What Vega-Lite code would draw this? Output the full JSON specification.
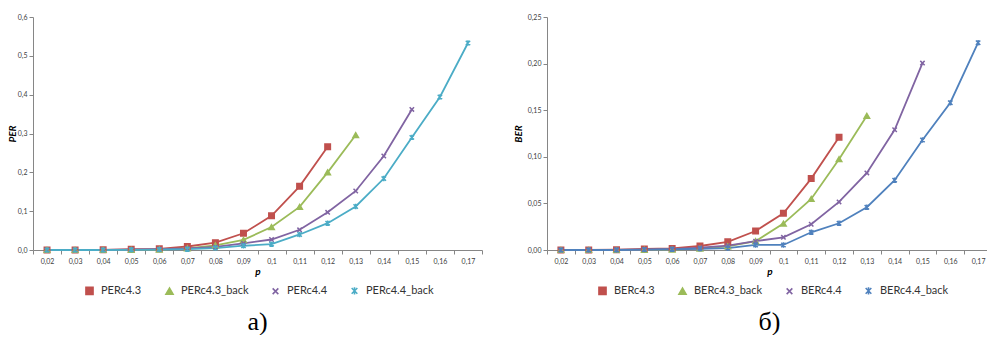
{
  "$schema": "https://vega.github.io/schema/vega-lite/v6.json",
  "padding": {"left": 7, "top": 13, "right": 0, "bottom": 0},
  "background": "white",
  "spacing": 30,
  "config": {
    "view": {"stroke": null},
    "font": "Lato",
    "axis": {"labelFont": "Lato", "labelFontSize": 7, "labelColor": "#404040", "domainColor": "#868686", "tickColor": "#868686", "grid": false, "titleFont": "Lato", "titleFontSize": 10, "titleFontStyle": "italic", "titleFontWeight": "bold", "titleColor": "#000000"},
    "legend": {"orient": "none", "direction": "horizontal", "labelFont": "Lato", "labelFontSize": 11, "labelColor": "#333333", "symbolSize": 50, "symbolStrokeWidth": 1.6, "columnPadding": 20, "labelOffset": 6, "legendY": 268},
    "title": {"font": "Liberation Serif", "fontSize": 26, "fontWeight": "normal", "color": "#000000", "orient": "bottom", "anchor": "middle"}
  },
  "datasets": {
    "per": [
      {"series": "PERc4.3", "p": "0,02", "v": 0}, {"series": "PERc4.3", "p": "0,03", "v": 0}, {"series": "PERc4.3", "p": "0,04", "v": 0.0005}, {"series": "PERc4.3", "p": "0,05", "v": 0.002}, {"series": "PERc4.3", "p": "0,06", "v": 0.003}, {"series": "PERc4.3", "p": "0,07", "v": 0.009}, {"series": "PERc4.3", "p": "0,08", "v": 0.019}, {"series": "PERc4.3", "p": "0,09", "v": 0.043}, {"series": "PERc4.3", "p": "0,1", "v": 0.088}, {"series": "PERc4.3", "p": "0,11", "v": 0.164}, {"series": "PERc4.3", "p": "0,12", "v": 0.266},
      {"series": "PERc4.3_back", "p": "0,02", "v": 0}, {"series": "PERc4.3_back", "p": "0,03", "v": 0}, {"series": "PERc4.3_back", "p": "0,04", "v": 0}, {"series": "PERc4.3_back", "p": "0,05", "v": 0.0005}, {"series": "PERc4.3_back", "p": "0,06", "v": 0.001}, {"series": "PERc4.3_back", "p": "0,07", "v": 0.004}, {"series": "PERc4.3_back", "p": "0,08", "v": 0.012}, {"series": "PERc4.3_back", "p": "0,09", "v": 0.026}, {"series": "PERc4.3_back", "p": "0,1", "v": 0.059}, {"series": "PERc4.3_back", "p": "0,11", "v": 0.111}, {"series": "PERc4.3_back", "p": "0,12", "v": 0.2}, {"series": "PERc4.3_back", "p": "0,13", "v": 0.296},
      {"series": "PERc4.4", "p": "0,02", "v": 0}, {"series": "PERc4.4", "p": "0,03", "v": 0}, {"series": "PERc4.4", "p": "0,04", "v": 0.0003}, {"series": "PERc4.4", "p": "0,05", "v": 0.001}, {"series": "PERc4.4", "p": "0,06", "v": 0.002}, {"series": "PERc4.4", "p": "0,07", "v": 0.004}, {"series": "PERc4.4", "p": "0,08", "v": 0.008}, {"series": "PERc4.4", "p": "0,09", "v": 0.017}, {"series": "PERc4.4", "p": "0,1", "v": 0.027}, {"series": "PERc4.4", "p": "0,11", "v": 0.052}, {"series": "PERc4.4", "p": "0,12", "v": 0.097}, {"series": "PERc4.4", "p": "0,13", "v": 0.152}, {"series": "PERc4.4", "p": "0,14", "v": 0.242}, {"series": "PERc4.4", "p": "0,15", "v": 0.362},
      {"series": "PERc4.4_back", "p": "0,02", "v": 0}, {"series": "PERc4.4_back", "p": "0,03", "v": 0}, {"series": "PERc4.4_back", "p": "0,04", "v": 0}, {"series": "PERc4.4_back", "p": "0,05", "v": 0.0005}, {"series": "PERc4.4_back", "p": "0,06", "v": 0.001}, {"series": "PERc4.4_back", "p": "0,07", "v": 0.002}, {"series": "PERc4.4_back", "p": "0,08", "v": 0.005}, {"series": "PERc4.4_back", "p": "0,09", "v": 0.011}, {"series": "PERc4.4_back", "p": "0,1", "v": 0.015}, {"series": "PERc4.4_back", "p": "0,11", "v": 0.04}, {"series": "PERc4.4_back", "p": "0,12", "v": 0.069}, {"series": "PERc4.4_back", "p": "0,13", "v": 0.112}, {"series": "PERc4.4_back", "p": "0,14", "v": 0.184}, {"series": "PERc4.4_back", "p": "0,15", "v": 0.29}, {"series": "PERc4.4_back", "p": "0,16", "v": 0.394}, {"series": "PERc4.4_back", "p": "0,17", "v": 0.533}
    ],
    "ber": [
      {"series": "BERc4.3", "p": "0,02", "v": 0}, {"series": "BERc4.3", "p": "0,03", "v": 0}, {"series": "BERc4.3", "p": "0,04", "v": 0.0003}, {"series": "BERc4.3", "p": "0,05", "v": 0.0012}, {"series": "BERc4.3", "p": "0,06", "v": 0.0016}, {"series": "BERc4.3", "p": "0,07", "v": 0.0043}, {"series": "BERc4.3", "p": "0,08", "v": 0.0088}, {"series": "BERc4.3", "p": "0,09", "v": 0.0204}, {"series": "BERc4.3", "p": "0,1", "v": 0.0394}, {"series": "BERc4.3", "p": "0,11", "v": 0.0766}, {"series": "BERc4.3", "p": "0,12", "v": 0.121},
      {"series": "BERc4.3_back", "p": "0,02", "v": 0}, {"series": "BERc4.3_back", "p": "0,03", "v": 0}, {"series": "BERc4.3_back", "p": "0,04", "v": 0}, {"series": "BERc4.3_back", "p": "0,05", "v": 0.0002}, {"series": "BERc4.3_back", "p": "0,06", "v": 0.0005}, {"series": "BERc4.3_back", "p": "0,07", "v": 0.0015}, {"series": "BERc4.3_back", "p": "0,08", "v": 0.004}, {"series": "BERc4.3_back", "p": "0,09", "v": 0.0095}, {"series": "BERc4.3_back", "p": "0,1", "v": 0.0283}, {"series": "BERc4.3_back", "p": "0,11", "v": 0.0548}, {"series": "BERc4.3_back", "p": "0,12", "v": 0.0974}, {"series": "BERc4.3_back", "p": "0,13", "v": 0.144},
      {"series": "BERc4.4", "p": "0,02", "v": 0}, {"series": "BERc4.4", "p": "0,03", "v": 0}, {"series": "BERc4.4", "p": "0,04", "v": 0.0002}, {"series": "BERc4.4", "p": "0,05", "v": 0.0005}, {"series": "BERc4.4", "p": "0,06", "v": 0.001}, {"series": "BERc4.4", "p": "0,07", "v": 0.0025}, {"series": "BERc4.4", "p": "0,08", "v": 0.0047}, {"series": "BERc4.4", "p": "0,09", "v": 0.0095}, {"series": "BERc4.4", "p": "0,1", "v": 0.0136}, {"series": "BERc4.4", "p": "0,11", "v": 0.0276}, {"series": "BERc4.4", "p": "0,12", "v": 0.0516}, {"series": "BERc4.4", "p": "0,13", "v": 0.0827}, {"series": "BERc4.4", "p": "0,14", "v": 0.129}, {"series": "BERc4.4", "p": "0,15", "v": 0.2006},
      {"series": "BERc4.4_back", "p": "0,02", "v": 0}, {"series": "BERc4.4_back", "p": "0,03", "v": 0}, {"series": "BERc4.4_back", "p": "0,04", "v": 0}, {"series": "BERc4.4_back", "p": "0,05", "v": 0.0004}, {"series": "BERc4.4_back", "p": "0,06", "v": 0.0008}, {"series": "BERc4.4_back", "p": "0,07", "v": 0.0013}, {"series": "BERc4.4_back", "p": "0,08", "v": 0.002}, {"series": "BERc4.4_back", "p": "0,09", "v": 0.0054}, {"series": "BERc4.4_back", "p": "0,1", "v": 0.0054}, {"series": "BERc4.4_back", "p": "0,11", "v": 0.019}, {"series": "BERc4.4_back", "p": "0,12", "v": 0.0287}, {"series": "BERc4.4_back", "p": "0,13", "v": 0.0459}, {"series": "BERc4.4_back", "p": "0,14", "v": 0.0749}, {"series": "BERc4.4_back", "p": "0,15", "v": 0.118}, {"series": "BERc4.4_back", "p": "0,16", "v": 0.158}, {"series": "BERc4.4_back", "p": "0,17", "v": 0.2224}
    ]
  },
  "resolve": {"scale": {"color": "independent", "shape": "independent", "y": "independent"}, "legend": {"color": "independent", "shape": "independent"}},
  "hconcat": [
    {
      "title": {"text": "a)", "offset": 11},
      "width": 449,
      "height": 233,
      "data": {"name": "per"},
      "encoding": {
        "x": {"field": "p", "type": "nominal", "sort": null, "title": "p", "scale": {"type": "band", "domain": ["0,02","0,03","0,04","0,05","0,06","0,07","0,08","0,09","0,1","0,11","0,12","0,13","0,14","0,15","0,16","0,17"], "paddingInner": 0, "paddingOuter": 0}, "axis": {"labelAngle": 0, "tickBand": "extent", "tickSize": 4, "labelPadding": 3, "titlePadding": 2}},
        "y": {"field": "v", "type": "quantitative", "title": "PER", "scale": {"domain": [0, 0.6], "nice": false}, "axis": {"values": [0, 0.1, 0.2, 0.3, 0.4, 0.5, 0.6], "labelExpr": "replace(format(datum.value, '.1f'), '.', ',')", "tickSize": 4, "titlePadding": 0}},
        "color": {"field": "series", "type": "nominal", "title": null, "scale": {"domain": ["PERc4.3", "PERc4.3_back", "PERc4.4", "PERc4.4_back"], "range": ["#C0504D", "#9BBB59", "#8064A2", "#4BACC6"]},
          "legend": {"legendX": 51, "encode": {"symbols": {"update": {
            "fill": {"signal": "datum.value == 'PERc4.3' ? '#C0504D' : datum.value == 'PERc4.3_back' ? '#9BBB59' : 'transparent'"},
            "stroke": {"signal": "datum.value == 'PERc4.3' ? '#C0504D' : datum.value == 'PERc4.3_back' ? '#9BBB59' : datum.value == 'PERc4.4' ? '#8064A2' : '#4BACC6'"}
          }}}}
        }
      },
      "layer": [
        {"mark": {"type": "line", "strokeWidth": 1.8}},
        {
          "mark": {"type": "point", "filled": false, "size": 30, "strokeWidth": 1.5, "opacity": 1},
          "encoding": {
            "shape": {"field": "series", "type": "nominal", "legend": null, "scale": {"domain": ["PERc4.3", "PERc4.3_back", "PERc4.4", "PERc4.4_back"], "range": ["square", "triangle-up", "M-0.8,-0.8L0.8,0.8M-0.8,0.8L0.8,-0.8", "M-0.8,-0.8L0.8,0.8M-0.8,0.8L0.8,-0.8M0,-1L0,1"]}},
            "fill": {"condition": [{"test": "datum.series == 'PERc4.3'", "value": "#C0504D"}, {"test": "datum.series == 'PERc4.3_back'", "value": "#9BBB59"}], "value": "transparent"}
          }
        }
      ]
    },
    {
      "title": {"text": "б)", "offset": 11},
      "width": 445,
      "height": 233,
      "data": {"name": "ber"},
      "encoding": {
        "x": {"field": "p", "type": "nominal", "sort": null, "title": "p", "scale": {"type": "band", "domain": ["0,02","0,03","0,04","0,05","0,06","0,07","0,08","0,09","0,1","0,11","0,12","0,13","0,14","0,15","0,16","0,17"], "paddingInner": 0, "paddingOuter": 0}, "axis": {"labelAngle": 0, "tickBand": "extent", "tickSize": 4, "labelPadding": 3, "titlePadding": 2}},
        "y": {"field": "v", "type": "quantitative", "title": "BER", "scale": {"domain": [0, 0.25], "nice": false}, "axis": {"values": [0, 0.05, 0.1, 0.15, 0.2, 0.25], "labelExpr": "replace(format(datum.value, '.2f'), '.', ',')", "tickSize": 4, "titlePadding": 4}},
        "color": {"field": "series", "type": "nominal", "title": null, "scale": {"domain": ["BERc4.3", "BERc4.3_back", "BERc4.4", "BERc4.4_back"], "range": ["#C0504D", "#9BBB59", "#8064A2", "#4F81BD"]},
          "legend": {"legendX": 50, "encode": {"symbols": {"update": {
            "fill": {"signal": "datum.value == 'BERc4.3' ? '#C0504D' : datum.value == 'BERc4.3_back' ? '#9BBB59' : 'transparent'"},
            "stroke": {"signal": "datum.value == 'BERc4.3' ? '#C0504D' : datum.value == 'BERc4.3_back' ? '#9BBB59' : datum.value == 'BERc4.4' ? '#8064A2' : '#4F81BD'"}
          }}}}
        }
      },
      "layer": [
        {"mark": {"type": "line", "strokeWidth": 1.8}},
        {
          "mark": {"type": "point", "filled": false, "size": 30, "strokeWidth": 1.5, "opacity": 1},
          "encoding": {
            "shape": {"field": "series", "type": "nominal", "legend": null, "scale": {"domain": ["BERc4.3", "BERc4.3_back", "BERc4.4", "BERc4.4_back"], "range": ["square", "triangle-up", "M-0.8,-0.8L0.8,0.8M-0.8,0.8L0.8,-0.8", "M-0.8,-0.8L0.8,0.8M-0.8,0.8L0.8,-0.8M0,-1L0,1"]}},
            "fill": {"condition": [{"test": "datum.series == 'BERc4.3'", "value": "#C0504D"}, {"test": "datum.series == 'BERc4.3_back'", "value": "#9BBB59"}], "value": "transparent"}
          }
        }
      ]
    }
  ]
}
